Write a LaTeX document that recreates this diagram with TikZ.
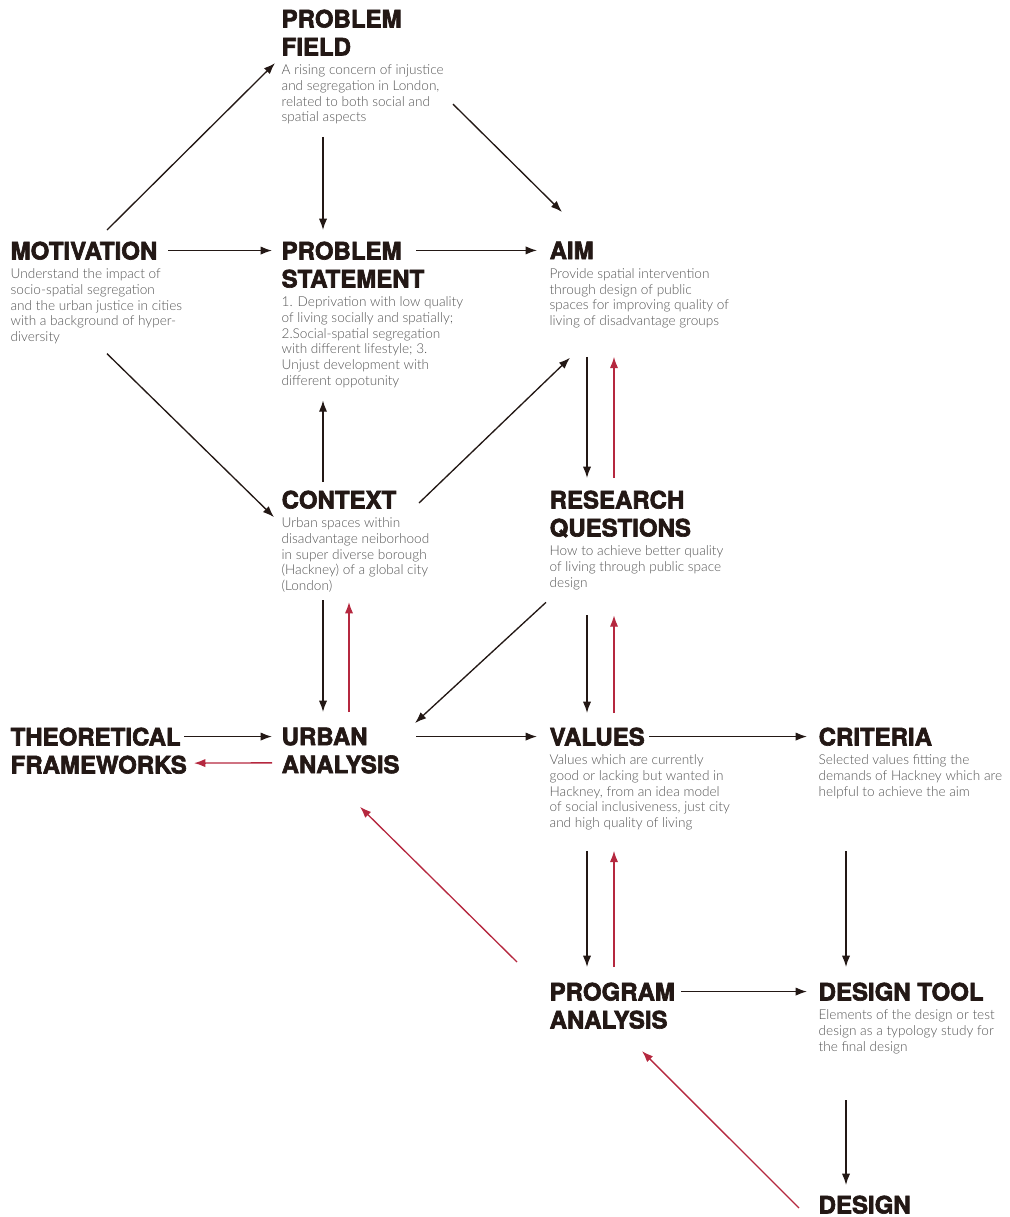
\documentclass[tikz,border=0pt]{standalone}
\usepackage{fontspec}
\usetikzlibrary{positioning,arrows.meta}
\IfFontExistsTF{TeX Gyre Heros Bold}{\newfontfamily\headfont{TeX Gyre Heros Bold}[FakeBold=2.6]}{\newfontfamily\headfont{Lato Black}[FakeBold=1.6]}
\IfFontExistsTF{Lato Light}{\newfontfamily\notefont{Lato Light}}{\newfontfamily\notefont{Lato}}
\definecolor{ink}{HTML}{231815}
\definecolor{greytext}{HTML}{555555}
\definecolor{backred}{HTML}{B5283F}
\tikzset{
  head/.style={anchor=north west, inner sep=0pt, align=left, text depth=0pt,
    font=\headfont\fontsize{18}{21}\selectfont, text=ink},
  notes/.style={below right=6pt and 0pt of #1.south west, inner sep=0pt, align=left,
    font=\notefont\fontsize{10.2}{11.8}\selectfont, text=greytext},
  back/.style={every edge/.append style={draw=backred}}
}
\begin{document}
\begin{tikzpicture}[x=0.75pt, y=-0.75pt, line width=1pt, >={Latex[length=8.5pt,width=6.2pt]},
    every edge/.append style={draw=ink}]
  \useasboundingbox (0,0) rectangle (1010,1217);
  % blocks
  \node [head] (pf) at (281,9) {PROBLEM\\FIELD};
  \node [notes=pf] (pfx) {A rising concern of injustice\\and segregation in London,\\related to both social and\\spatial aspects};
  \node [head] (mot) at (10,241) {MOTIVATION};
  \node [notes=mot] (motx) {Understand the impact of\\socio-spatial segregation\\and the urban justice in cities\\with a background of hyper-\\diversity};
  \node [head] (ps) at (281,241) {PROBLEM\\STATEMENT};
  \node [notes=ps] (psx) {1. Deprivation with low quality\\of living socially and spatially;\\2.Social-spatial segregation\\with different lifestyle; 3.\\Unjust development with\\different oppotunity};
  \node [head] (aim) at (549,241) {AIM};
  \node [notes=aim] (aimx) {Provide spatial intervention\\through design of public\\spaces for improving quality of\\living of disadvantage groups};
  \node [head] (ctx) at (281,490) {CONTEXT};
  \node [notes=ctx] (ctxx) {Urban spaces within\\disadvantage neiborhood\\in super diverse borough\\(Hackney) of a global city\\(London)};
  \node [head] (rq) at (549,490) {RESEARCH\\QUESTIONS};
  \node [notes=rq] (rqx) {How to achieve better quality\\of living through public space\\design};
  \node [head] (tf) at (10,727) {THEORETICAL\\FRAMEWORKS};
  \node [head] (ua) at (281,727) {URBAN\\ANALYSIS};
  \node [head] (val) at (549,727) {VALUES};
  \node [notes=val] (valx) {Values which are currently\\good or lacking but wanted in\\Hackney, from an idea model\\of social inclusiveness, just city\\and high quality of living};
  \node [head] (crit) at (818,727) {CRITERIA};
  \node [notes=crit] (critx) {Selected values fitting the\\demands of Hackney which are\\helpful to achieve the aim};
  \node [head] (pa) at (549,982) {PROGRAM\\ANALYSIS};
  \node [head] (dt) at (818,982) {DESIGN TOOL};
  \node [notes=dt] (dtx) {Elements of the design or test\\design as a typology study for\\the final design};
  \node [head] (des) at (818,1195) {DESIGN};
  % forward links
  \path[->] ([shift={(97,-11)}]mot.north west) edge ([shift={(-6,-1)}]pfx.north west)
            ([shift={(42,12)}]pfx.south west) edge ([shift={(42,-11)}]ps.north west)
            ([shift={(172,40)}]pfx.north west) edge ([shift={(13,-29)}]aim.north west)
            ([shift={(158,0)}]mot.west) edge ([shift={(-9,0)}]mot.west -| ps.west)
            ([shift={(135,0)}]ps.west |- aim.west) edge ([shift={(-12,0)}]aim.west)
            ([shift={(97,9)}]motx.south west) edge ([shift={(-7,0)}]ctxx.north west)
            ([shift={(42,-8)}]ctx.north west) edge ([shift={(42,12)}]psx.south west)
            ([shift={(138,13)}]ctx.north west) edge ([shift={(21,29)}]aimx.south west)
            ([shift={(38,28)}]aimx.south west) edge ([shift={(38,-12)}]rq.north west)
            ([shift={(-3,12)}]rqx.south west) edge ([shift={(134,-4)}]ua.north west)
            ([shift={(42,7)}]ctxx.south west) edge ([shift={(42,-15)}]ua.north west)
            ([shift={(174,0)}]tf.west |- val.west) edge ([shift={(-9,0)}]ua.west |- val.west)
            ([shift={(135,0)}]ua.west |- val.west) edge ([shift={(-12,0)}]val.west)
            ([shift={(38,25)}]rqx.south west) edge ([shift={(38,-14)}]val.north west)
            ([shift={(100,0)}]val.west) edge ([shift={(-11,0)}]crit.west)
            ([shift={(38,20)}]valx.south west) edge ([shift={(38,-15)}]pa.north west)
            ([shift={(28,52)}]critx.south west) edge ([shift={(28,-15)}]dt.north west)
            ([shift={(132,0)}]pa.west |- dt.west) edge ([shift={(-11,0)}]dt.west)
            ([shift={(28,46)}]dtx.south west) edge ([shift={(28,-10)}]des.north west);
  % feedback links
  \path[->, back] ([shift={(65,-12)}]rq.north west) edge ([shift={(65,28)}]aimx.south west)
            ([shift={(68,-15)}]ua.north west) edge ([shift={(68,9)}]ctxx.south west)
            ([shift={(-9,-11)}]ua.south west) edge ([shift={(184,-11)}]tf.south west)
            ([shift={(65,-14)}]val.north west) edge ([shift={(65,25)}]rqx.south west)
            ([shift={(65,-15)}]pa.north west) edge ([shift={(65,20)}]valx.south west)
            ([shift={(-32,-20)}]pa.north west) edge ([shift={(79,33)}]ua.south west)
            ([shift={(-19,13)}]des.north west) edge ([shift={(93,22)}]pa.south west);
\end{tikzpicture}
\end{document}
